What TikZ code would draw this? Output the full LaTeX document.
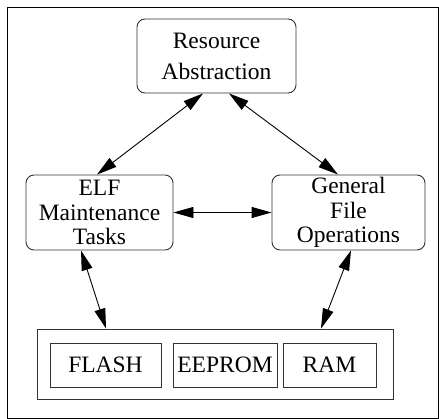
\documentclass[tikz,border=0pt]{standalone}
\usepackage{fontspec}
\setmainfont{Liberation Serif}
\usetikzlibrary{arrows.meta}

\begin{document}
\begin{tikzpicture}[x=1pt,y=-1pt,line width=0.9pt,font=\fontsize{23.5}{31}\selectfont,
  box/.style={draw=black!80,rounded corners=8pt,align=center,inner sep=0pt},
  cell/.style={draw=black!80,inner sep=0pt,minimum height=44pt},
  link/.style={{Triangle[length=20pt,width=11pt]}-{Triangle[length=20pt,width=11pt]}}]

\useasboundingbox (0,0) rectangle (439,419);
\draw (7,7) rectangle (438,418);

% the three layers
\node[box,minimum width=159pt,minimum height=74pt] (res) at (216.5,56) {Resource\\Abstraction};
\node[box,minimum width=147pt,minimum height=75pt,font=\fontsize{23.5}{24.5}\selectfont] (elf) at (99.5,212.5) {ELF\\Maintenance\\Tasks};
\node[box,minimum width=153pt,minimum height=75pt,font=\fontsize{23.5}{24.5}\selectfont] (gen) at (348.5,212.5) {General\\File\\Operations};

% memory types
\node[draw=black!80,minimum width=356pt,minimum height=70pt] (mem) at (215,364) {};
\node[cell,minimum width=111pt] (flash) at (105.5,365) {FLASH};
\node[cell,minimum width=104pt] (eeprom) at (225,365) {EEPROM};
\node[cell,minimum width=93pt] (ram) at (329.5,365) {RAM};

\draw[link] ([xshift=-13.5pt]res.south) -- ([xshift=-2.5pt]elf.north);
\draw[link] ([xshift=12.5pt]res.south) -- ([xshift=-10.5pt]gen.north);
\draw[link] (elf.east) -- (gen.west);
\draw[link] ([xshift=-18.5pt]elf.south) -- ([xshift=-109pt]mem.north);
\draw[link] ([xshift=2.5pt]gen.south) -- ([xshift=106pt]mem.north);

\end{tikzpicture}
\end{document}
